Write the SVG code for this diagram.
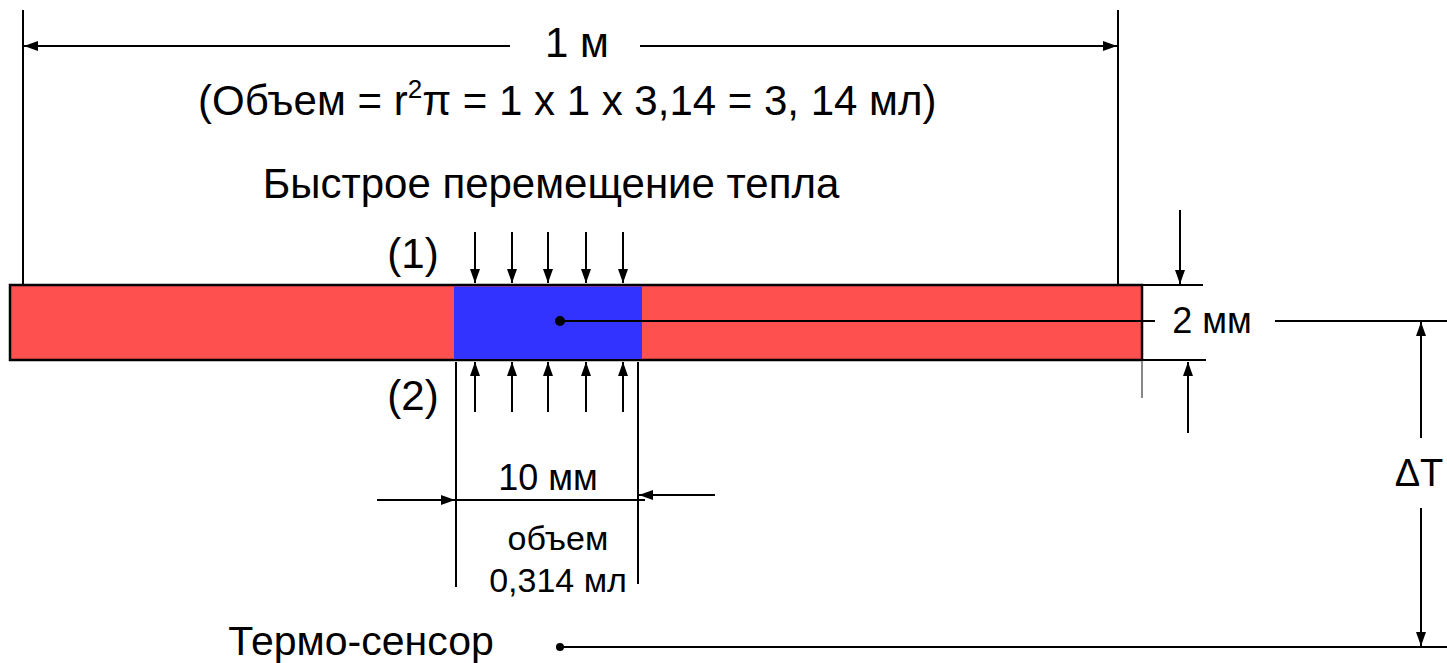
<svg xmlns="http://www.w3.org/2000/svg" width="1447" height="663" viewBox="0 0 1447 663">
<defs>
<marker id="ah" viewBox="0 0 14 10" refX="14" refY="5" markerWidth="14" markerHeight="10" markerUnits="userSpaceOnUse" orient="auto">
<path d="M0,0 L14,5 L0,10 Z" fill="#000"/>
</marker>
<style>
.t{font-family:"Liberation Sans",Arial,sans-serif;fill:#000}
.ln{stroke:#000;stroke-width:2;fill:none}
.ar{stroke:#000;stroke-width:2;fill:none;marker-end:url(#ah)}
</style>
</defs>
<rect width="1447" height="663" fill="#fff"/>
<g id="bar">
<rect x="10" y="285" width="1132" height="75" fill="#FF5050" stroke="#000" stroke-width="2.5"/>
</g>
<g id="sample">
<rect x="454" y="286.5" width="188" height="72.5" fill="#3333FF"/>
</g>
<g id="connectors">
<line class="ln" x1="23" y1="10" x2="23" y2="284"/>
<line class="ln" x1="1118" y1="10" x2="1118" y2="284"/>
<line class="ar" x1="510" y1="46" x2="24" y2="46"/>
<line class="ar" x1="640" y1="46" x2="1117" y2="46"/>
<line class="ar" x1="475" y1="232" x2="475" y2="283"/>
<line class="ar" x1="512" y1="232" x2="512" y2="283"/>
<line class="ar" x1="548" y1="232" x2="548" y2="283"/>
<line class="ar" x1="586" y1="232" x2="586" y2="283"/>
<line class="ar" x1="623" y1="232" x2="623" y2="283"/>
<line class="ar" x1="475" y1="412" x2="475" y2="362"/>
<line class="ar" x1="512" y1="412" x2="512" y2="362"/>
<line class="ar" x1="548" y1="412" x2="548" y2="362"/>
<line class="ar" x1="586" y1="412" x2="586" y2="362"/>
<line class="ar" x1="623" y1="412" x2="623" y2="362"/>
<circle cx="560" cy="321" r="5" fill="#000"/>
<line class="ln" x1="560" y1="321" x2="1155" y2="321"/>
<line class="ln" x1="1275" y1="321" x2="1447" y2="321"/>
<line class="ln" x1="1142" y1="285" x2="1203" y2="285"/>
<line class="ar" x1="1180" y1="210" x2="1180" y2="284"/>
<line class="ln" x1="1131" y1="360" x2="1206" y2="360"/>
<line class="ar" x1="1188" y1="433" x2="1188" y2="362"/>
<line x1="1142" y1="361" x2="1142" y2="398" stroke="#888" stroke-width="2"/>
<line class="ar" x1="1421" y1="438" x2="1421" y2="322"/>
<line class="ar" x1="1421" y1="508" x2="1421" y2="646"/>
<circle cx="560" cy="647" r="4" fill="#000"/>
<line class="ln" x1="560" y1="647" x2="1447" y2="647"/>
<line class="ln" x1="456" y1="362" x2="456" y2="587"/>
<line class="ln" x1="638" y1="362" x2="638" y2="584"/>
<line class="ln" x1="456" y1="500" x2="645" y2="500"/>
<line class="ar" x1="377" y1="500" x2="455" y2="500"/>
<line class="ar" x1="715" y1="495" x2="639" y2="495"/>
</g>
<g id="labels">
<text class="t" x="577" y="57" font-size="42" text-anchor="middle">1 м</text>
<text class="t" x="198" y="115" font-size="42">(Объем = r<tspan font-size="26" dy="-17">2</tspan><tspan dy="17">π = 1 x 1 x 3,14 = 3, 14 мл)</tspan></text>
<text class="t" x="551" y="198" font-size="42" text-anchor="middle">Быстрое перемещение тепла</text>
<text class="t" x="413" y="268" font-size="42" text-anchor="middle">(1)</text>
<text class="t" x="413" y="410" font-size="42" text-anchor="middle">(2)</text>
<text class="t" x="1212" y="333" font-size="36" text-anchor="middle">2 мм</text>
<text class="t" x="1419" y="486" font-size="38" text-anchor="middle">ΔT</text>
<text class="t" x="548" y="490" font-size="36" text-anchor="middle">10 мм</text>
<text class="t" x="558" y="550" font-size="34" text-anchor="middle">объем</text>
<text class="t" x="558" y="592" font-size="34" text-anchor="middle">0,314 мл</text>
<text class="t" x="361" y="655" font-size="41" text-anchor="middle">Термо-сенсор</text>
</g>
</svg>
